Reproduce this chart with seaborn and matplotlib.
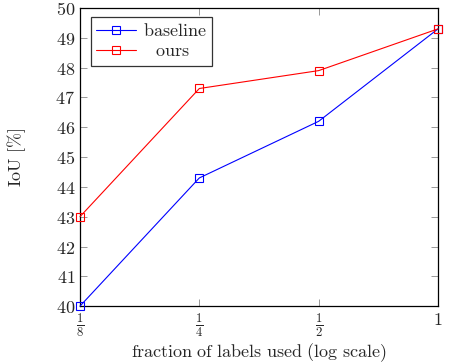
import numpy as np
import pandas as pd
import seaborn as sns
import matplotlib
matplotlib.use("Agg")
import matplotlib.pyplot as plt

# data
fractions = [0.125, 0.25, 0.5, 1.0]
baseline = [40.0, 44.3, 46.2, 49.3]
ours = [43.0, 47.3, 47.9, 49.3]
tick_labels = [r'$\frac{1}{8}$', r'$\frac{1}{4}$', r'$\frac{1}{2}$', r'$1$']
series_names = ['baseline', 'ours']

df = pd.DataFrame({
	'fraction': fractions * 2,
	'iou': baseline + ours,
	'method': [series_names[0]] * 4 + [series_names[1]] * 4,
})

sns.set_style('ticks')
plt.rcParams['font.family'] = ['DejaVu Serif']
plt.rcParams['mathtext.fontset'] = 'cm'

fig, ax = plt.subplots(figsize=(4.65, 3.64), dpi=100)
fig.subplots_adjust(left=0.172, right=0.942, top=0.978, bottom=0.159)

sns.lineplot(data=df, x='fraction', y='iou', hue='method',
	palette={'baseline': '#0000ff', 'ours': '#ff0000'},
	marker='s', markersize=5.5, markerfacecolor='none', markeredgewidth=0.8,
	linewidth=0.8, ax=ax)
# open squares take the line colour, and are not clipped at the frame
for line in ax.lines:
	line.set_markeredgecolor(line.get_color())
	line.set_clip_on(False)
	line.set_zorder(5)

ax.set_xscale('log', base=2)
ax.set_xlim(0.125, 1)
ax.set_ylim(40, 50)
ax.set_xticks(fractions)
ax.set_xticklabels(tick_labels)
ax.minorticks_off()
ax.set_yticks(range(40, 51))
ax.set_yticklabels([r'$%d$' % v for v in range(40, 51)])
ax.tick_params(direction='in', length=5, width=0.6, color='#888888',
	top=True, right=True, labelsize=13)

for s in ax.spines.values():
	s.set_linewidth(0.9)
	s.set_color('black')

ax.set_xlabel(r'$\mathrm{fraction\ of\ labels\ used\ (log\ scale)}$', fontsize=13, labelpad=2)
ax.set_ylabel(r'$\mathrm{IoU\ [\%]}$', fontsize=13, labelpad=20)

handles, labels = ax.get_legend_handles_labels()
leg = ax.legend(handles, [r'$\mathrm{baseline}$', r'$\enspace\;\mathrm{ours}$'],
	loc='upper left', bbox_to_anchor=(0.03, 0.97), borderaxespad=0, fontsize=13,
	frameon=True, fancybox=False, edgecolor='black', handlelength=2.2,
	borderpad=0.3, labelspacing=0.1, handletextpad=0.4)
leg.get_frame().set_linewidth(0.9)

fig.savefig('out.png', dpi=100)
